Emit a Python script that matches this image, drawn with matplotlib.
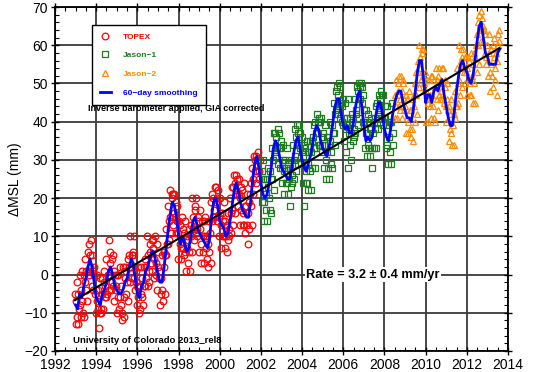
import numpy as np
import matplotlib
matplotlib.use('Agg')
import matplotlib.pyplot as plt
from matplotlib.lines import Line2D
from matplotlib.ticker import MultipleLocator

plt.rcParams['font.family'] = ['Liberation Sans', 'DejaVu Sans']

# ---------------- data (mm) ----------------
cycle_years = 1 / 36.0
topex_start = 1992.97
jason1_start = 2002.03
jason2_start = 2008.50

topex_mm = [
    # 1993
    -5, -13, -7, -2, -11, -13, -5, -9, -8, 0, -11, -4, 1, -7, -10, 0, -11, -2, 4, -4, 1, -7, 6, 1, 8, 0, 5, 2, 9, -3, 5, 1, -4, 0, 2, -5,
    # 1994
    -10, -4, 0, -7, -9, -4, -14, -10, -1, -10, -9, -1, -5, -9, -2, 1, -6, -3, -6, 4, -5, 0, 0, 9, -4, 3, 6, -4, 4, -2, 5, -3, 1, -7, 0, -4,
    # 1995
    -3, -10, 0, -6, 0, -9, -6, 2, -8, -3, -10, -12, 2, -6, -11, -1, 2, -5, 1, -2, 4, -7, 5, 2, -2, 10, 2, 5, -1, 6, 5, -1, 10, -4, -2, 1,
    # 1996
    -8, -3, 2, -6, -10, -3, -9, -5, 2, -6, -1, -8, 2, -3, 4, -3, 2, -1, 10, -3, 5, 1, -2, 6, 8, 3, 9, 1, 7, 9, 4, -1, 10, 3, 0, 8,
    # 1997
    -4, 2, 6, -1, -8, 1, -1, -5, 5, -4, -7, 6, 2, -5, 5, 12, 5, 8, 8, 18, 9, 14, 15, 22, 11, 20, 21, 13, 21, 16, 21, 15, 19, 11, 18, 14,
    # 1998
    11, 4, 14, 8, 13, 4, 7, 15, 7, 12, 5, 11, 14, 6, 1, 7, 10, 3, 9, 6, 12, 1, 13, 10, 6, 20, 12, 15, 9, 18, 17, 11, 20, 10, 12, 15,
    # 1999
    14, 6, 12, 17, 8, 3, 14, 10, 6, 14, 3, 10, 15, 7, 4, 10, 2, 8, 14, 6, 11, 3, 19, 14, 21, 15, 20, 17, 23, 15, 23, 19, 14, 20, 22, 15,
    # 2000
    10, 16, 20, 13, 7, 16, 14, 10, 19, 10, 7, 14, 10, 6, 13, 16, 9, 12, 10, 20, 11, 16, 17, 23, 13, 23, 26, 16, 24, 22, 26, 21, 25, 18, 25, 21,
    # 2001
    20, 13, 23, 17, 22, 13, 16, 24, 13, 18, 11, 18, 21, 13, 8, 16, 19, 12, 21, 18, 24, 13, 28, 25, 21, 31, 27, 30, 24, 31, 30, 27, 32, 25, 27, 30,
]

jason1_mm = [
    # 2002
    27, 19, 25, 30, 19, 14, 25, 21, 17, 25, 14, 23, 28, 20, 17, 27, 16, 25, 33, 25, 30, 22, 37, 32, 37, 31, 36, 33, 38, 29, 37, 33, 28, 33, 35, 28,
    # 2003
    24, 30, 34, 27, 21, 30, 28, 24, 33, 24, 21, 29, 25, 18, 28, 30, 23, 26, 24, 34, 25, 30, 31, 38, 27, 36, 39, 29, 37, 34, 39, 33, 37, 29, 36, 32,
    # 2004
    31, 24, 34, 18, 33, 24, 27, 35, 24, 29, 22, 32, 35, 27, 22, 32, 35, 28, 36, 33, 39, 28, 40, 37, 33, 42, 37, 40, 34, 41, 40, 34, 41, 32, 34, 37,
    # 2005
    36, 28, 34, 39, 30, 25, 36, 32, 28, 36, 25, 35, 40, 32, 29, 39, 28, 37, 45, 37, 42, 34, 48, 43, 49, 42, 47, 44, 50, 41, 49, 45, 40, 44, 46, 39,
    # 2006
    35, 41, 45, 38, 32, 41, 39, 28, 46, 37, 34, 41, 37, 30, 40, 42, 35, 38, 36, 46, 37, 42, 43, 49, 39, 48, 50, 41, 49, 46, 50, 45, 49, 40, 47, 43,
    # 2007
    40, 33, 43, 37, 40, 31, 34, 42, 33, 38, 31, 38, 41, 33, 28, 37, 40, 33, 41, 38, 44, 33, 45, 42, 38, 47, 43, 46, 40, 48, 47, 41, 47, 39, 41, 44,
    # 2008
    41, 33, 39, 44, 34, 29, 40, 36, 32, 40, 29, 40, 45, 37, 34,
]

jason2_mm = [
    # 2008 (second half)
    41, 47, 51, 44, 41, 50, 48, 44, 52, 46, 43, 52, 48, 41, 51, 50, 43, 46,
    # 2009
    44, 37, 47, 41, 46, 37, 40, 48, 38, 43, 36, 43, 46, 38, 35, 44, 47, 40, 50, 47, 53, 42, 56, 53, 49, 60, 54, 57, 51, 59, 58, 52, 59, 48, 50, 53,
    # 2010
    48, 40, 46, 51, 45, 40, 51, 47, 44, 52, 41, 47, 52, 44, 41, 51, 40, 49, 54, 46, 51, 43, 52, 47, 54, 46, 51, 48, 54, 46, 54, 50, 45, 49, 51, 44,
    # 2011
    40, 46, 50, 43, 35, 44, 42, 38, 46, 37, 34, 43, 39, 34, 42, 48, 41, 44, 44, 54, 45, 50, 51, 60, 47, 56, 59, 49, 57, 54, 59, 53, 57, 50, 57, 53,
    # 2012
    54, 47, 57, 51, 56, 47, 50, 58, 47, 52, 45, 55, 58, 50, 45, 57, 60, 53, 63, 60, 66, 55, 68, 65, 61, 69, 64, 67, 61, 65, 64, 58, 63, 55, 57, 60,
    # 2013
    60, 52, 58, 63, 53, 48, 59, 55, 52, 60, 49, 57, 62, 54, 51, 58, 47, 56, 63, 60, 64, 61,
]

smooth_start = 1993.0
smooth_step = 0.1
smooth_mm = [
    -8, -9, -5, -6, -3, -1, 2, 4, 2, -2,        # 1993
    -6, -7, -8, -5, -4, -2, 1, 2, 0, -3,        # 1994
    -4, -5, -5, -4, -2, -1, 2, 4, 3, -1,        # 1995
    -5, -6, -3, -2, 1, 2, 4, 6, 6, 3,           # 1996
    0, -2, -2, 2, 7, 12, 16, 19, 18, 15,        # 1997
    10, 8, 10, 8, 6, 7, 10, 14, 15, 13,         # 1998
    11, 10, 9, 8, 7, 9, 15, 19, 20, 18,         # 1999
    14, 13, 12, 10, 11, 14, 18, 22, 24, 22,     # 2000
    19, 17, 16, 15, 15, 19, 25, 29, 31, 28,     # 2001
    24, 21, 20, 21, 24, 28, 33, 35, 34, 31,     # 2002
    28, 27, 26, 25, 25, 28, 32, 35, 36, 33,     # 2003
    30, 28, 27, 29, 31, 34, 37, 39, 38, 35,     # 2004
    33, 32, 31, 33, 36, 40, 44, 46, 46, 42,     # 2005
    39, 38, 39, 37, 37, 40, 44, 47, 48, 44,     # 2006
    39, 35, 36, 35, 36, 39, 42, 45, 45, 42,     # 2007
    38, 36, 35, 38, 42, 45, 47, 48, 48, 45,     # 2008
    43, 41, 41, 40, 43, 48, 53, 56, 56, 51,     # 2009
    45, 47, 47, 45, 48, 49, 48, 50, 51, 47,     # 2010
    44, 41, 39, 39, 43, 48, 52, 55, 56, 54,     # 2011
    53, 51, 50, 52, 56, 61, 65, 66, 62, 58,     # 2012
    57, 55, 55, 55, 55, 58, 59,                 # 2013
]

trend_rate = 3.2          # mm/yr
trend_at_1993 = -6.6      # mm
trend_span = [1992.97, 2013.58]

x_ticks = list(range(1992, 2015, 2))
y_ticks = list(range(-20, 71, 10))

# ---------------- figure ----------------
fig = plt.figure(figsize=(5.33, 3.72), dpi=100)
ax = fig.add_axes([55 / 533, 21 / 372, 453 / 533, 344 / 372])

t_topex = topex_start + np.arange(len(topex_mm)) * cycle_years
t_j1 = jason1_start + np.arange(len(jason1_mm)) * cycle_years
t_j2 = jason2_start + np.arange(len(jason2_mm)) * cycle_years
t_smooth = smooth_start + np.arange(len(smooth_mm)) * smooth_step

red = '#ff0000'
green = '#1e7b1e'
orange = '#ff8c00'
blue = '#0000ff'

ms_c, ms_s, ms_t = 4.8, 4.3, 5.0

ax.plot(t_topex, topex_mm, 'o', ms=ms_c, mfc='none', mec=red, mew=0.9, zorder=3)
ax.plot(t_j1, jason1_mm, 's', ms=ms_s, mfc='none', mec=green, mew=0.9, zorder=3)
ax.plot(t_j2, jason2_mm, '^', ms=ms_t, mfc='none', mec=orange, mew=0.9, zorder=3)
ax.plot(t_smooth, smooth_mm, '-', color=blue, lw=2.0, zorder=4)

tt = np.array(trend_span)
ax.plot(tt, trend_at_1993 + trend_rate * (tt - 1993.0), '-', color='black', lw=1.5, zorder=5)

ax.set_xlim(1992, 2014)
ax.set_ylim(-20, 70)
ax.set_xticks(x_ticks)
ax.set_yticks(y_ticks)
ax.xaxis.set_minor_locator(MultipleLocator(0.5))
ax.yaxis.set_minor_locator(MultipleLocator(2))
ax.grid(True, which='major', color='#3a3a3a', lw=1.3, zorder=1)
ax.set_axisbelow(True)

ax.tick_params(which='major', direction='inout', length=6, width=1.0,
               top=True, right=True, labelsize=10, pad=2)
ax.tick_params(which='minor', direction='in', length=3, width=0.8,
               top=True, right=True)
for s in ax.spines.values():
    s.set_linewidth(1.3)

ax.set_ylabel('\u0394MSL (mm)', fontsize=10, labelpad=2)

# legend
handles = [
    Line2D([], [], ls='none', marker='o', ms=ms_c, mfc='none', mec=red, mew=0.9),
    Line2D([], [], ls='none', marker='s', ms=ms_s, mfc='none', mec=green, mew=0.9),
    Line2D([], [], ls='none', marker='^', ms=ms_t, mfc='none', mec=orange, mew=0.9),
    Line2D([], [], color=blue, lw=2.0),
]
labels = ['TOPEX', 'Jason\u22121', 'Jason\u22122', '60\u2212day smoothing']
leg = ax.legend(handles, labels, loc='upper left', bbox_to_anchor=(0.0817, 0.948),
                prop={'size': 6.0, 'weight': 'bold'}, frameon=True, fancybox=False,
                edgecolor='black', framealpha=1, handlelength=1.3, handletextpad=1.5,
                labelspacing=1.3, borderpad=0.95, borderaxespad=0)
leg.get_frame().set_linewidth(1.0)
for txt, c in zip(leg.get_texts(), [red, green, orange, blue]):
    txt.set_color(c)
leg.set_zorder(10)

ax.text(1993.6, 43.5, 'Inverse barometer applied, GIA corrected', fontsize=6.5,
        fontweight='bold', va='center', ha='left', zorder=6)
ax.text(1992.88, -17.3, 'University of Colorado 2013_rel8', fontsize=6.8,
        fontweight='bold', va='center', ha='left', zorder=6)
ax.text(2004.2, 0.0, 'Rate = 3.2 \u00b1 0.4 mm/yr', fontsize=9.2,
        fontweight='bold', va='center', ha='left', zorder=6,
        bbox=dict(facecolor='white', edgecolor='none', pad=1.0))

fig.savefig('out.png', dpi=100)
